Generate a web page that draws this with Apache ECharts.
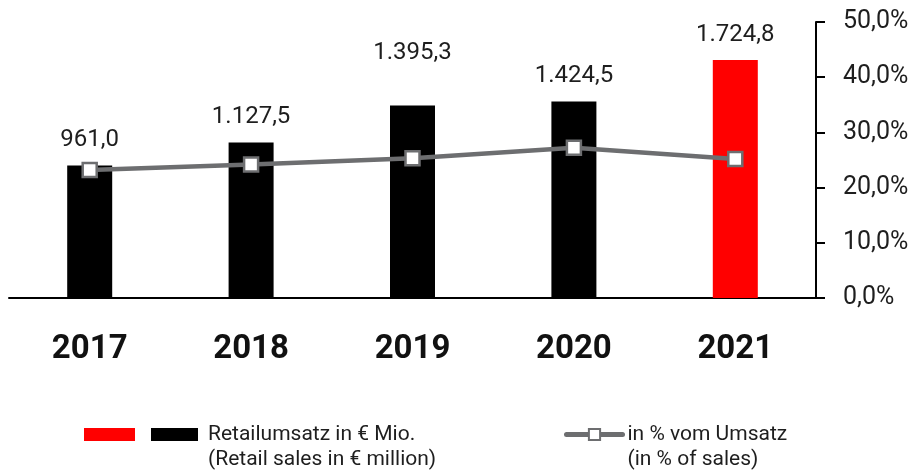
<!DOCTYPE html>
<html>
<head>
    <meta charset="utf-8">
    <script src="https://cdn.jsdelivr.net/npm/echarts@6/dist/echarts.min.js"></script>
    <style>
        html, body { margin: 0; padding: 0; background: #fff; }
        #chart { width: 916px; height: 473px; }
    </style>
</head>
<body>
    <div id="chart"></div>
    <script>
        // data
        var years = ['2017', '2018', '2019', '2020', '2021'];
        var retailSales = [961.0, 1127.5, 1395.3, 1424.5, 1724.8];
        var shareOfSales = [23.2, 24.2, 25.3, 27.2, 25.2];
        var percentTicks = [0, 10, 20, 30, 40, 50];

        var blackName = 'Retailumsatz in € Mio.\n(Retail sales in € million)';
        var redName = 'Retail 2021';
        var lineName = 'in % vom Umsatz\n(in % of sales)';

        function deNumber(v) {
            var s = v.toFixed(1).split('.');
            return s[0].replace(/\B(?=(\d{3})+(?!\d))/g, '.') + ',' + s[1];
        }

        var last = years.length - 1;
        var blackData = retailSales.map(function (v, i) {
            if (i === last) return '-';
            // the 2019 label sits higher in the original
            if (i === 2) return { value: v, label: { distance: 40 } };
            return v;
        });
        var redData = retailSales.map(function (v, i) { return i === last ? v : '-'; });

        var valueLabel = {
            show: true,
            position: 'top',
            distance: 13,
            fontFamily: 'Roboto',
            fontSize: 24,
            color: '#1e1e1e',
            formatter: function (p) { return deNumber(p.value); }
        };

        var legendText = {
            fontFamily: 'Roboto',
            fontSize: 21,
            lineHeight: 25,
            color: '#1e1e1e',
            padding: [0, 0, 0, 5]
        };
        // empty first line so the first text line sits level with the icon
        function legendLabel(name) { return '\n' + name; }

        var chart = echarts.init(document.getElementById('chart'), null, { renderer: 'canvas' });
        var option = {
            animation: false,
            grid: { left: 9, right: 100, top: 22, bottom: 175, containLabel: false },
            legend: [
                {
                    data: [{ name: redName, icon: 'rect' }],
                    left: 84, top: 428, padding: 0,
                    itemWidth: 51, itemHeight: 13,
                    formatter: function () { return ''; },
                    selectedMode: false
                },
                {
                    data: [{ name: blackName, icon: 'rect' }],
                    left: 151, top: 397, padding: 0,
                    itemWidth: 47, itemHeight: 13,
                    textStyle: legendText,
                    formatter: legendLabel,
                    selectedMode: false
                },
                {
                    data: [lineName],
                    left: 564, top: 397, padding: 0,
                    itemWidth: 56, itemHeight: 14,
                    lineStyle: { width: 5, color: '#6d6e70', cap: 'round' },
                    itemStyle: { color: '#fff', borderColor: '#6d6e70', borderWidth: 2 },
                    textStyle: Object.assign({}, legendText, { padding: [0, 0, 0, 0] }),
                    formatter: legendLabel,
                    selectedMode: false
                }
            ],
            xAxis: {
                type: 'category',
                data: years,
                axisLine: { lineStyle: { color: '#000', width: 2 } },
                axisTick: { show: false },
                axisLabel: {
                    fontFamily: 'Roboto',
                    fontWeight: 'bold',
                    fontSize: 33,
                    color: '#111',
                    margin: 35
                }
            },
            yAxis: [
                {
                    type: 'value',
                    min: 0, max: 2000,
                    show: false
                },
                {
                    type: 'value',
                    position: 'right',
                    min: percentTicks[0],
                    max: percentTicks[percentTicks.length - 1],
                    interval: 10,
                    splitLine: { show: false },
                    axisLine: { show: true, lineStyle: { color: '#000', width: 2 } },
                    axisTick: { show: true, length: 9, lineStyle: { color: '#000', width: 2 } },
                    axisLabel: {
                        fontFamily: 'Roboto',
                        fontSize: 25,
                        color: '#1e1e1e',
                        margin: 27,
                        formatter: function (v) { return v.toFixed(1).replace('.', ',') + '%'; }
                    }
                }
            ],
            series: [
                {
                    name: blackName,
                    type: 'bar',
                    stack: 'sales',
                    yAxisIndex: 0,
                    barWidth: 45,
                    itemStyle: { color: '#000' },
                    label: valueLabel,
                    data: blackData
                },
                {
                    name: redName,
                    type: 'bar',
                    stack: 'sales',
                    yAxisIndex: 0,
                    barWidth: 45,
                    itemStyle: { color: '#ff0000' },
                    label: valueLabel,
                    data: redData
                },
                {
                    name: lineName,
                    type: 'line',
                    yAxisIndex: 1,
                    z: 5,
                    symbol: 'rect',
                    symbolSize: 14,
                    lineStyle: { color: '#6d6e70', width: 4.5 },
                    itemStyle: { color: '#fff', borderColor: '#6d6e70', borderWidth: 2.5 },
                    data: shareOfSales
                }
            ]
        };
        chart.setOption(option);
    </script>
</body>
</html>
